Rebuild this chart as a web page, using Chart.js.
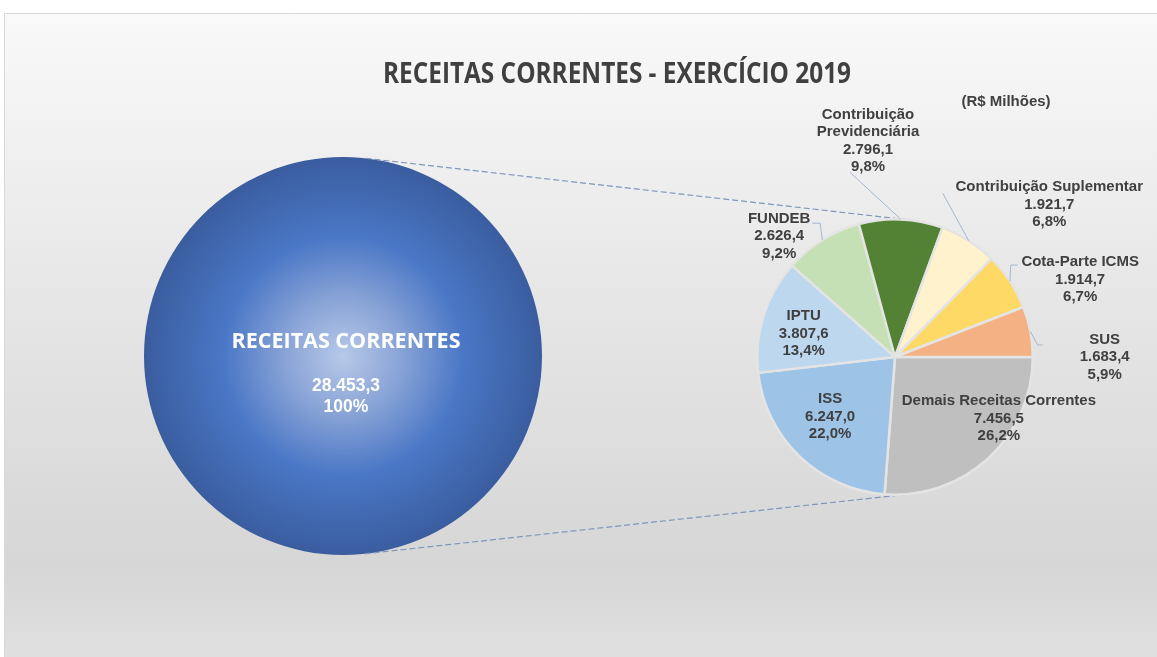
<!DOCTYPE html>
<html>
<head>
<meta charset="utf-8">
<script src="https://cdn.jsdelivr.net/npm/chart.js@4.4.1/dist/chart.umd.min.js"></script>
<style>
  html, body { margin: 0; padding: 0; background: #fff; }
  #wrap { position: relative; width: 1157px; height: 657px; }
  #wrap canvas { position: absolute; left: 0; top: 0; }
</style>
</head>
<body>
<div id="wrap">
  <canvas id="totalChart" width="1157" height="657"></canvas>
  <canvas id="detailChart" width="1157" height="657"></canvas>
</div>
<script>
// data (R$ milhões)
const chartTitle = 'RECEITAS CORRENTES - EXERCÍCIO 2019';
const unitLabel = '(R$ Milhões)';
const totalLabel = 'RECEITAS CORRENTES';
const totalValue = [28453.3];
const categories = [
    'Demais Receitas Correntes',
    'ISS',
    'IPTU',
    'FUNDEB',
    ['Contribuição', 'Previdenciária'],
    'Contribuição Suplementar',
    'Cota-Parte ICMS',
    'SUS'
];
const values = [7456.5, 6247.0, 3807.6, 2626.4, 2796.1, 1921.7, 1914.7, 1683.4];
const sliceColors = ['#bfbfbf', '#9dc3e6', '#bdd7ee', '#c5e0b4', '#548235', '#fff2cc', '#ffd966', '#f4b183'];

// label placement, in radius units from the pie centre, and leader line bends (px from label)
const labelOffsets = [[0.754, 0.449], [-0.471, 0.433], [-0.663, -0.170], [-0.841, -0.877],
                      [-0.196, -1.569], [1.12, -1.105], [1.344, -0.562], [1.522, 0]];
const leaders = [null, null, null, [[41, -13], [33, -13]], [[-18, 31.5]], [[-106.5, -11.5]],
                 [[-69.5, -14.5], [-62.5, -14.5]], [[-67, -12], [-62, -12]]];

function fmt(v, dec) {
    const parts = v.toFixed(dec).split('.');
    parts[0] = parts[0].replace(/\B(?=(\d{3})+(?!\d))/g, '.');
    return parts.join(',');
}

// draws text squeezed horizontally to a given width (Calibri-like look)
function fitText(ctx, text, x, y, width) {
    const w = ctx.measureText(text).width;
    ctx.save();
    ctx.translate(x, y);
    ctx.scale(width / w, 1);
    ctx.fillText(text, 0, 0);
    ctx.restore();
}

const backgroundPlugin = {
    id: 'background',
    beforeDraw(chart) {
        const ctx = chart.ctx;
        const w = chart.width, h = chart.height;
        ctx.save();
        ctx.fillStyle = '#ffffff';
        ctx.fillRect(0, 0, w, h);
        const g = ctx.createLinearGradient(0, 13, 0, h);
        g.addColorStop(0, '#f9f9f9');
        g.addColorStop(0.45, '#e6e6e6');
        g.addColorStop(0.86, '#d6d6d6');
        g.addColorStop(1, '#e0e0e0');
        ctx.fillStyle = g;
        ctx.fillRect(4, 13, w - 4, h - 13);
        ctx.strokeStyle = '#d9d9d9';
        ctx.lineWidth = 1;
        ctx.beginPath();
        ctx.moveTo(4.5, h);
        ctx.lineTo(4.5, 13.5);
        ctx.lineTo(w, 13.5);
        ctx.stroke();
        ctx.restore();
    },
    afterDraw(chart) {
        const ctx = chart.ctx;
        ctx.save();
        ctx.fillStyle = '#404040';
        ctx.textAlign = 'center';
        ctx.textBaseline = 'alphabetic';
        ctx.font = 'bold 28px "Open Sans"';
        fitText(ctx, chartTitle, 617, 83, 468);
        ctx.font = 'bold 15px "Liberation Sans"';
        ctx.fillText(unitLabel, 1006, 106);
        ctx.restore();
    }
};

const totalTextPlugin = {
    id: 'totalText',
    afterDatasetsDraw(chart) {
        const ctx = chart.ctx;
        const arc = chart.getDatasetMeta(0).data[0];
        ctx.save();
        ctx.fillStyle = '#ffffff';
        ctx.textAlign = 'center';
        ctx.textBaseline = 'alphabetic';
        ctx.font = 'bold 22px "Open Sans"';
        fitText(ctx, totalLabel, arc.x + 3, arc.y - 8, 229);
        ctx.font = 'bold 17.5px "Liberation Sans"';
        ctx.fillText(fmt(totalValue[0], 1), arc.x + 3, arc.y + 35);
        ctx.fillText('100%', arc.x + 3, arc.y + 56);
        ctx.restore();
    }
};

const totalChart = new Chart(document.getElementById('totalChart').getContext('2d'), {
    type: 'pie',
    data: {
        labels: [totalLabel],
        datasets: [{
            data: totalValue,
            backgroundColor: function (context) {
                const chart = context.chart;
                const area = chart.chartArea;
                if (!area) return '#4472c4';
                const cx = (area.left + area.right) / 2;
                const cy = (area.top + area.bottom) / 2;
                const r = Math.min(area.width, area.height) / 2;
                const g = chart.ctx.createRadialGradient(cx, cy, 0, cx, cy, r);
                g.addColorStop(0, '#b7c9e8');
                g.addColorStop(0.3, '#87a2d6');
                g.addColorStop(0.6, '#4a77c6');
                g.addColorStop(1, '#3a5d9f');
                return g;
            },
            borderWidth: 0
        }]
    },
    options: {
        responsive: false,
        animation: false,
        layout: { padding: { left: 144, right: 615, top: 157, bottom: 102 } },
        plugins: { legend: { display: false }, tooltip: { enabled: false } }
    },
    plugins: [backgroundPlugin, totalTextPlugin]
});

const connectorPlugin = {
    id: 'connectors',
    beforeDatasetsDraw(chart) {
        const big = totalChart.getDatasetMeta(0).data[0];
        const small = chart.getDatasetMeta(0).data[0];
        const r1 = big.outerRadius, r2 = small.outerRadius;
        const dx = small.x - big.x, dy = small.y - big.y;
        const d = Math.hypot(dx, dy);
        const ux = dx / d, uy = dy / d;
        const c = (r1 - r2) / d, s = Math.sqrt(1 - c * c);
        const ctx = chart.ctx;
        ctx.save();
        ctx.strokeStyle = '#7e97bd';
        ctx.lineWidth = 1.2;
        ctx.setLineDash([6, 3]);
        [1, -1].forEach(sign => {
            const nx = c * ux - sign * s * uy;
            const ny = c * uy + sign * s * ux;
            ctx.beginPath();
            ctx.moveTo(big.x + r1 * nx, big.y + r1 * ny);
            ctx.lineTo(small.x + r2 * nx, small.y + r2 * ny);
            ctx.stroke();
        });
        ctx.restore();
    }
};

const sliceLabelPlugin = {
    id: 'sliceLabels',
    afterDatasetsDraw(chart) {
        const ctx = chart.ctx;
        const total = values.reduce((a, b) => a + b, 0);
        ctx.save();
        chart.getDatasetMeta(0).data.forEach((arc, i) => {
            const p = arc.getProps(['x', 'y', 'startAngle', 'endAngle', 'outerRadius'], true);
            const mid = (p.startAngle + p.endAngle) / 2;
            const lx = p.x + labelOffsets[i][0] * p.outerRadius;
            const ly = p.y + labelOffsets[i][1] * p.outerRadius;
            if (leaders[i]) {
                ctx.strokeStyle = '#a3b6d1';
                ctx.lineWidth = 1;
                ctx.setLineDash([]);
                ctx.beginPath();
                ctx.moveTo(p.x + p.outerRadius * Math.cos(mid), p.y + p.outerRadius * Math.sin(mid));
                leaders[i].forEach(pt => ctx.lineTo(lx + pt[0], ly + pt[1]));
                ctx.stroke();
            }
            const lines = [].concat(categories[i], [fmt(values[i], 1), fmt(values[i] / total * 100, 1) + '%']);
            const lh = 17.5;
            const top = ly - (lines.length - 1) * lh / 2;
            ctx.fillStyle = '#404040';
            ctx.font = 'bold 15px "Liberation Sans"';
            ctx.textAlign = 'center';
            ctx.textBaseline = 'middle';
            lines.forEach((t, k) => ctx.fillText(t, lx, top + k * lh));
        });
        ctx.restore();
    }
};

const detailChart = new Chart(document.getElementById('detailChart').getContext('2d'), {
    type: 'pie',
    data: {
        labels: categories,
        datasets: [{
            data: values,
            backgroundColor: sliceColors,
            borderColor: '#e4e4e4',
            borderWidth: 2.5
        }]
    },
    options: {
        responsive: false,
        animation: false,
        rotation: 90,
        layout: { padding: { left: 756, right: 123, top: 218, bottom: 161 } },
        plugins: { legend: { display: false }, tooltip: { enabled: false } }
    },
    plugins: [connectorPlugin, sliceLabelPlugin]
});
</script>
</body>
</html>
